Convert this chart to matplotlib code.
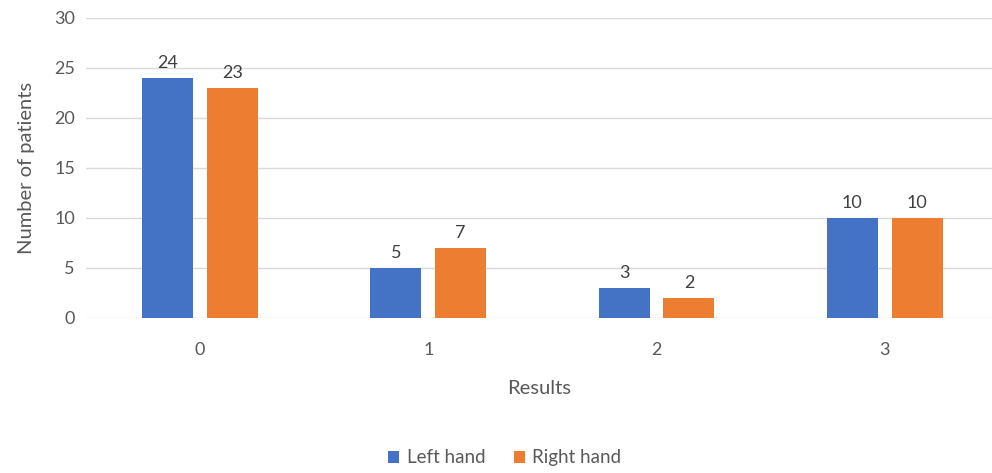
import matplotlib.pyplot as plt
import numpy as np

plt.rcParams['font.family'] = ['Lato', 'DejaVu Sans']

categories = ['0', '1', '2', '3']
left_hand = [24, 5, 3, 10]
right_hand = [23, 7, 2, 10]

blue = '#4472C4'
orange = '#ED7D31'
text_grey = '#595959'

fig = plt.figure(figsize=(9.92, 4.73), dpi=100)
ax = fig.add_axes([0.0867, 0.3277, 0.9133, 0.6343])

x = np.arange(len(categories))
w = 0.224
b1 = ax.bar(x - 0.142, left_hand, w, color=blue, label='Left hand', zorder=3)
b2 = ax.bar(x + 0.142, right_hand, w, color=orange, label='Right hand', zorder=3)

for bars in (b1, b2):
    ax.bar_label(bars, padding=5, fontsize=13, color='#404040')

ax.set_ylim(0, 30)
ax.set_yticks(range(0, 31, 5))
ax.set_xlim(-0.5, 3.47)
ax.set_xticks(x)
ax.set_xticklabels(categories)
ax.grid(axis='y', color='#D9D9D9', linewidth=1, zorder=0)
for s in ax.spines.values():
    s.set_visible(False)
ax.tick_params(length=0, labelsize=13, colors=text_grey, pad=8)
ax.tick_params(axis='x', pad=17)

ax.set_xlabel('Results', fontsize=14.5, color=text_grey, labelpad=16)
ax.set_ylabel('Number of patients', fontsize=14.5, color=text_grey, labelpad=14)

fig.legend(handles=[b1, b2], loc='center', bbox_to_anchor=(0.509, 0.032),
           ncol=2, frameon=False, fontsize=13.5, labelcolor=text_grey,
           handlelength=0.6, handleheight=0.6, handletextpad=0.4, columnspacing=1.5)

fig.savefig('out.png', dpi=100)
